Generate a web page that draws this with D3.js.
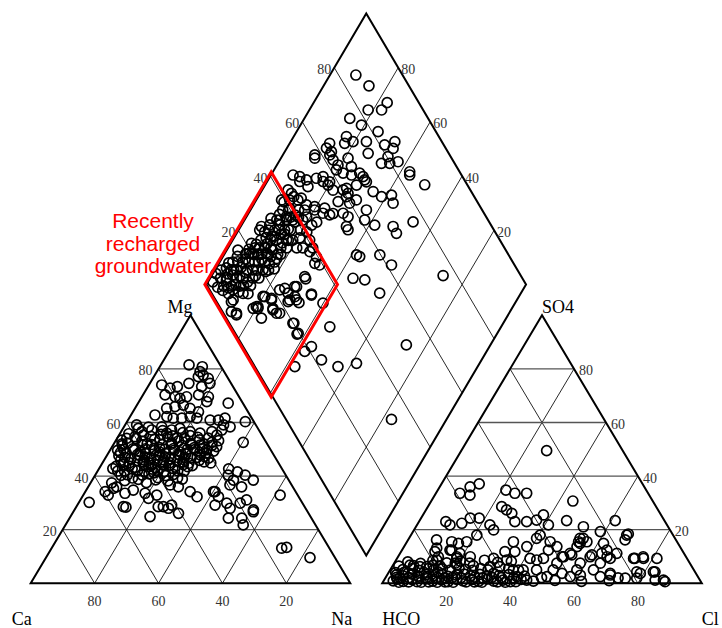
<!DOCTYPE html>
<html>
<head>
<meta charset="utf-8">
<script src="https://cdn.jsdelivr.net/npm/d3@7"></script>
<style>
  body { margin: 0; background: #fff; }
</style>
</head>
<body>
<div id="chart"></div>
<script>
// tick values shared by both triangles and the diamond
const ticks = [20, 40, 60, 80];
const cationNames = ['Ca', 'Mg', 'Na'];
const anionNames = ['HCO', 'SO4', 'Cl'];
const regionText = ['Recently', 'recharged', 'groundwater'];
// recharge zone in diamond units: Ca+Mg % and SO4+Cl %
const rechargeCaMg = [59, 100.5];
const rechargeSO4Cl = [-0.5, 41];

// cations: [Mg %, Na+K %]
const cationPts = [
  [81.5,8.8],[80.8,13.3],[79.0,13.5],[77.7,15.1],[77.1,13.9],[76.5,17.3],
  [74.0,4.0],[72.8,7.2],[73.4,9.2],[74.6,12.2],[73.4,16.8],[74.6,18.8],
  [70.3,6.9],[69.6,10.4],[69.0,12.2],[69.6,14.0],[70.3,17.4],[69.6,20.8],[67.8,21.2],[67.2,28.2],
  [65.3,9.9],[65.9,12.2],[66.5,14.5],[65.3,17.2],[64.0,20.5],
  [62.8,7.5],[62.2,11.5],[61.6,13.8],[61.6,16.5],[62.2,18.8],[61.6,21.2],[60.9,25.7],[60.9,28.3],
  [61.6,30.0],[59.1,30.8],[58.4,33.2],[60.3,37.0],
  [59.1,3.6],[57.8,4.8],[57.2,9.3],[58.4,11.8],[57.2,15.5],[57.8,17.8],[56.6,21.6],[56.0,25.0],
  [56.6,28.4],[55.3,30.6],[57.2,31.2],[52.6,40.2],[54.1,3.0],[54.7,5.3],[55.3,7.6],
  [53.4,1.8],[52.3,4.2],[53.0,8.3],[52.1,10.4],[53.6,13.6],[52.4,17.9],[53.1,19.7],[52.2,23.9],
  [53.5,26.1],[52.6,30.4],[53.2,32.2],
  [51.4,3.0],[50.2,6.9],[51.6,9.1],[50.4,13.4],[51.7,15.3],[50.3,19.6],[51.5,21.6],[50.6,25.9],
  [49.6,2.4],[48.6,5.6],[49.8,7.6],[48.5,11.7],[49.5,13.9],[48.4,18.1],[49.7,20.1],[48.3,24.4],
  [49.9,26.4],[48.6,30.6],[49.3,32.6],
  [47.6,3.8],[46.5,8.1],[47.8,10.1],[46.6,14.3],[47.7,16.4],[46.4,20.6],[47.9,22.6],[46.7,26.8],
  [45.9,5.2],[45.0,8.4],[45.8,10.5],[44.9,14.6],[45.9,16.7],[45.0,21.0],[45.8,23.0],[44.8,27.1],
  [45.9,29.8],[44.9,33.9],
  [44.3,6.8],[43.3,11.1],[44.4,13.1],[43.2,17.3],[44.2,19.3],[43.4,23.5],[44.3,25.6],
  [42.8,4.3],[41.9,8.4],[42.7,10.4],[41.8,14.7],[42.6,16.7],[41.7,20.9],[42.9,23.0],[41.9,27.1],
  [42.7,40.6],[41.6,43.9],
  [40.3,8.1],[39.3,12.2],[40.4,14.7],[39.4,20.1],[40.2,22.1],[39.3,26.3],
  [54.8,10.2],[55.6,13.0],[54.3,18.6],[55.1,22.4],[50.0,4.1],[48.0,9.4],[46.0,12.5],[44.0,15.8],
  [47.9,15.4],[50.1,17.0],[46.1,18.6],[44.1,21.4],[48.1,22.2],[50.0,24.0],[46.2,24.8],[43.9,28.6],
  [47.0,28.6],[41.2,18.0],[38.3,10.3],[37.6,17.4],[38.2,23.9],[37.5,6.6],[55.8,2.8],[56.2,19.5],
  [54.0,6.0],[53.8,11.9],[54.6,15.6],[54.0,21.2],[54.5,25.0],[54.2,28.4],
  [52.0,2.6],[51.8,12.0],[51.9,18.0],[51.8,24.3],[52.0,28.2],[51.5,31.0],
  [50.2,10.8],[50.6,15.0],[50.4,22.8],[50.3,28.6],
  [48.8,3.7],[49.0,9.8],[48.9,16.0],[49.0,22.3],[48.9,28.5],
  [47.0,6.0],[47.2,12.1],[47.2,18.4],[47.0,24.6],[47.3,30.8],
  [45.1,6.5],[45.3,12.6],[45.4,18.7],[45.2,25.0],[45.3,31.6],
  [43.6,4.9],[43.7,8.9],[43.5,15.2],[43.8,21.3],[43.5,27.4],
  [41.9,6.3],[42.0,12.4],[41.8,18.9],[42.0,25.0],
  [40.5,10.0],[40.8,16.6],[40.6,24.3],[38.8,14.3],[38.6,19.8],[38.9,28.0],
  [56.6,6.5],[57.0,12.8],[56.0,14.6],[58.3,7.7],[55.0,16.9],
  [34.2,6.2],[32.9,7.8],[35.4,8.2],[36.0,8.9],[33.6,12.7],[34.8,14.7],[33.6,19.0],[31.7,21.0],
  [32.9,23.0],[36.7,25.3],[36.0,28.2],[34.2,32.8],[32.3,35.9],
  [40.4,41.6],[38.5,44.2],[36.7,44.0],[40.4,46.9],[38.5,50.4],[36.0,48.0],[34.2,40.6],[32.3,42.6],
  [29.2,43.1],[29.9,46.4],[28.0,48.4],[29.9,50.6],
  [28.6,14.7],[24.9,24.9],[28.6,27.2],[28.0,29.1],[26.1,33.2],[24.3,49.7],[24.3,53.9],[27.4,56.0],
  [21.8,55.6],[30.2,3.2],[28.4,15.6],[28.6,25.6],[29.2,29.5],[34.2,40.1],[31.1,52.0],[26.7,56.3],
  [32.9,61.6],[13.1,72.0],[13.4,73.4],[9.6,82.6],
  [51.6,27.2],[49.8,30.2],[51.0,32.7],[47.9,29.1],[46.7,32.3]
];

// anions: [SO4 %, Cl %]
const anionPts = [
  [33.6,7.5],[32.9,11.0],[36.0,9.5],[37.1,11.8],[34.8,21.3],[33.6,24.7],[33.6,28.4],[30.7,44.3],
  [23.0,8.4],[21.8,10.3],[22.4,13.7],[24.3,15.4],[24.3,18.2],[21.8,22.8],[19.9,24.9],
  [28.6,23.1],[27.4,25.2],[26.1,27.5],[23.0,30.0],[23.0,33.7],[23.6,36.5],[25.5,37.7],[21.8,41.1],
  [23.4,46.0],[21.1,52.4],[19.3,58.6],[23.4,61.2],[18.4,67.8],[16.2,67.9],
  [16.2,8.9],[11.8,10.6],[15.5,14.0],[14.9,16.4],[15.5,18.7],[18.0,20.6],[8.7,12.7],[12.4,15.5],
  [9.3,18.7],[9.9,22.6],[9.3,30.2],[11.8,32.5],[15.5,33.3],[11.8,35.6],[13.7,38.4],[16.8,39.9],
  [18.0,40.4],[15.5,44.8],[12.4,45.8],[9.9,51.3],[10.6,54.0],[15.5,53.7],[16.8,53.5],[15.5,56.3],
  [10.6,60.3],[11.2,63.1],[9.3,66.7],[11.2,67.8],[9.3,74.0],[9.3,77.1],[9.3,81.3],
  [3.7,78.9],[4.3,82.7],[1.9,78.7],[1.2,87.4],[1.9,75.1],[3.1,69.8],[5.0,63.6],[2.5,67.0],
  [5.0,58.4],[7.5,58.2],[2.5,57.6],[3.7,54.4],[5.0,51.0],[7.5,50.9],[2.5,50.3],[5.0,45.8],
  [8.7,44.0],[9.3,41.6],[9.3,45.8],[5.0,41.6],[2.5,40.9],[1.2,44.6],[5.0,38.5],[8.7,34.6],
  [6.2,33.7],[6.2,30.6],[3.7,33.0],[2.5,31.5],
  [6.8,5.3],[6.2,8.7],[13.1,10.5],[9.9,12.6],[12.4,15.0],[9.9,18.4],[7.5,19.1],[11.2,18.7],
  [13.7,47.8],[9.9,51.8],[11.2,53.2],[13.7,54.1],[14.9,54.5],[16.8,54.5],
  [9.9,60.1],[7.5,64.5],[9.9,65.4],[3.7,69.5],[14.9,61.8],[12.4,64.1],
  [49.5,26.7],[18.0,67.5],[0.6,88.2],[1.2,84.8],[4.3,83.2],[4.3,77.5],[9.3,74.4],[9.9,76.7],
  [0.9,3.0],[1.6,3.9],[0.7,6.2],[1.4,8.7],[0.6,10.6],[1.7,13.2],[0.8,15.4],[1.3,17.9],
  [0.6,20.3],[1.5,22.6],[0.9,24.8],[1.4,27.3],[0.7,29.8],[1.6,32.1],[0.8,34.5],[1.2,37.2],
  [0.6,39.8],[1.5,42.7],[0.8,46.9],[1.1,53.5],[0.7,62.0],[1.0,70.5],
  [3.2,2.9],[2.8,5.1],[3.4,7.6],[2.7,9.8],[3.3,12.1],[2.9,14.6],[3.5,16.8],[2.6,19.3],
  [3.1,21.7],[3.4,24.0],[2.8,26.2],[3.3,28.9],[2.9,35.1],[3.2,38.0],[2.7,43.2],
  [5.1,3.9],[5.5,6.7],[4.8,9.2],[5.6,11.8],[5.0,13.6],[5.4,16.1],[4.9,18.8],[5.7,21.2],
  [5.2,23.4],[4.8,25.9],[5.5,28.1],[5.0,30.6],[5.6,36.8],[4.9,40.2],
  [8.0,4.0],[7.4,8.3],[8.5,11.6],[7.6,16.4],[8.3,20.3],[7.5,23.6],[8.6,27.7],[7.8,32.2],[8.2,36.3],
  [6.5,14.8],[6.9,19.9],[6.6,25.2],[2.1,48.8],[3.0,60.5],[2.0,72.8],
  [2.2,3.4],[2.0,4.6],[0.4,5.0],[2.1,7.3],[0.5,8.0],[2.3,10.4],[0.4,12.0],[2.0,12.7],[0.5,14.3],
  [2.2,16.0],[0.4,17.0],[2.0,18.6],[0.5,19.4],[2.2,20.9],[0.4,22.0],[2.1,23.6],[0.5,26.0],
  [2.3,27.8],[0.5,28.6],[2.0,30.4],[0.4,31.0],[2.2,33.2],[0.5,35.8],[2.1,36.2],[0.4,38.3],
  [2.0,40.1],[0.6,41.5],
  [4.0,2.2],[6.4,2.0],[4.1,4.8],[6.6,6.5],[3.9,6.2],[6.2,10.8],[4.1,11.0],[6.8,12.5],[4.3,15.3]
];

// diamond: [Ca+Mg %, SO4+Cl %]
const diamondPts = [
  [91.9,85.4],[85.8,87.5],[77.0,90.1],[77.4,87.0],[81.6,82.8],[85.8,75.5],[80.9,77.9],[74.5,81.9],
  [83.5,71.1],[82.8,69.3],[80.5,72.2],[76.3,76.4],[70.0,81.5],[67.4,85.3],[66.7,83.5],[87.5,64.6],
  [85.4,63.6],[90.0,57.8],[89.4,57.2],[73.6,74.8],[67.6,77.1],[66.8,80.4],[65.0,79.7],[62.7,82.6],
  [83.4,62.6],[80.9,63.2],[79.0,67.6],[76.4,67.1],[57.2,84.4],[56.6,83.8],[50.1,86.7],
  [93.1,47.3],[90.7,49.1],[91.9,43.0],[90.2,43.4],[86.3,49.8],[85.2,54.0],[83.4,56.4],[80.4,57.5],
  [80.5,61.8],[77.8,63.3],[74.8,65.6],[70.9,68.9],[68.9,69.0],[71.4,65.3],
  [65.0,69.3],[61.4,71.0],[58.6,74.4],[56.6,73.4],
  [77.8,57.0],[74.7,60.2],[72.4,60.0],[74.1,56.5],[70.2,59.8],[68.7,62.5],
  [92.1,39.1],[88.0,40.1],[83.4,46.0],[80.5,48.2],[77.1,51.1],[73.5,52.7],[70.4,55.9],[68.2,56.8],
  [63.7,63.8],[62.4,61.4],[58.3,63.6],[52.3,69.1],[50.0,68.9],[46.9,76.2],[27.6,75.7],
  [58.5,52.4],[57.2,53.1],[51.2,59.7],[45.7,61.5],[55.3,47.0],[51.3,50.4],[44.2,52.6],
  [26.3,51.4],[17.2,33.0],[53.6,30.8],[60.1,33.0],[55.7,21.4],[50.1,22.1],[43.7,26.0],[38.5,32.4],
  [57.2,12.5],[56.9,18.4],[65.5,20.2],[62.5,19.2],
  [70.0,32.1],[65.4,31.1],[71.4,27.8],[70.1,25.4],[67.7,25.6],[71.1,23.2],
  [80.1,15.5],[76.8,17.5],[79.5,11.7],[80.3,11.5],[74.5,16.1],[71.8,17.6],[85.0,3.8],[89.0,4.6],
  [86.9,9.8],[72.8,16.6],[76.1,21.9],[74.8,23.8],
  [98.2,7.1],[95.0,10.4],[93.3,12.1],[90.0,15.4],[88.3,17.1],[85.0,20.4],[83.2,22.1],
  [96.8,5.6],[94.9,7.6],[91.7,10.7],[89.8,12.6],[86.7,15.7],[84.8,17.6],
  [95.9,12.4],[92.8,15.5],[90.9,17.4],[87.8,20.5],[85.9,22.4],[82.8,25.5],
  [93.4,17.9],[91.5,19.8],[88.3,22.9],[86.4,24.8],[83.3,27.9],
  [94.3,5.1],[91.8,7.6],[89.3,10.1],[94.6,7.1],[90.7,7.3],[96.5,16.2],[93.5,21.7],[93.5,27.9],
  [93.4,26.7],[91.2,30.8],[89.0,34.8],[87.5,37.5],
  [91.2,25.2],[88.1,28.3],[86.2,30.2],[83.1,33.3],[81.2,35.2],
  [90.6,29.5],[88.7,31.4],[85.6,34.5],[83.7,36.4],[80.6,39.5],
  [89.9,33.9],[86.8,37.0],[84.9,38.9],[81.8,42.0],
  [89.9,37.6],[88.0,39.5],[84.9,42.6],[83.0,44.5],[89.5,41.6],[87.0,44.2],
  [91.6,21.9],[88.5,25.0],[86.6,26.9],[83.5,30.0],[81.6,31.9],[78.5,35.0],[76.6,36.9],[73.5,40.0],
  [75.9,40.5],[70.7,39.5],[73.7,38.4],[70.0,37.8],[68.2,39.0],[70.7,32.2],[72.0,27.2],[65.2,30.9],
  [91.5,27.9],[88.5,29.4],[84.8,33.8],[79.4,37.8],[78.3,41.1],[78.0,43.9],[77.0,46.0],[81.1,43.8],
  [83.9,39.2],[79.9,47.6],[76.7,49.6],[74.3,51.4],[66.9,54.5],[65.8,54.4],
  [87.6,62.7],[85.3,62.5],[89.8,48.2],[88.0,50.6],[82.5,55.5],[80.3,56.4],[73.9,61.6],[72.5,61.1],
  [72.6,68.5],[69.8,68.8],
  [88.8,5.5],[87.2,2.8],[85.3,4.1],[81.0,10.2],[79.8,12.0],[79.5,16.0],[77.1,17.8],[74.8,16.4],
  [76.6,11.0],[71.3,22.4],[69.0,25.3],[65.8,19.9],[62.3,19.7],[72.9,23.9],
  [98.5,2.5],[96.0,3.0],[99.0,5.0],
  [96.8,9.3],[94.2,11.2],[92.3,14.0],[90.8,9.1],[88.2,11.4],[86.0,13.6],[93.8,4.0],[91.4,5.2],
  [95.5,14.9],[89.1,19.3],[87.2,22.1],[84.1,23.5],[90.3,23.2],[92.4,19.2],[86.7,18.6],[83.9,20.9],
  [81.7,24.1],[85.7,27.0],[88.6,26.4],[84.0,31.4],[87.4,32.8],[82.3,28.8],
  [97.0,11.0],[95.3,8.6],[93.6,9.9],[92.5,6.3],[91.1,12.0],[89.8,14.6],[88.5,8.8],[87.6,13.3],
  [86.3,16.9],[85.3,11.3],[94.4,14.0],[92.5,16.9],[90.9,20.4],[89.4,21.6],[87.1,24.5],[85.0,25.3],
  [82.8,26.8],[93.2,19.8],[91.8,23.0],[90.0,27.3],[87.8,30.0],[86.0,32.5],[84.6,35.8],[82.5,33.8],
  [92.0,32.4],[90.1,35.8],[88.0,34.0],[86.1,38.8],[85.0,40.6],[83.6,41.2],[91.0,39.5],[88.9,43.5],
  [86.3,45.6]
];

const width = 722;
const height = 628;

// x in triangle side lengths (left triangle 0..1, right triangle 1.1..2.1)
const x = d3.scaleLinear().domain([0, 2.1]).range([30.7, 701.8]);
const yTri = d3.scaleLinear().domain([0, 100]).range([583.3, 315.3]);
const yDia = d3.scaleLinear().domain([0, 200]).range([555.5, 13.5]);

// (top %, right-corner %) -> pixel
const cationXY = (mg, na) => [x((na + mg / 2) / 100), yTri(mg)];
const anionXY = (so4, cl) => [x(1.1 + (cl + so4 / 2) / 100), yTri(so4)];
const diamondXY = (camg, s) => [x(1.05 + (s - camg) / 200), yDia(camg + s)];

const svg = d3.select('#chart')
  .append('svg')
  .attr('width', width)
  .attr('height', height);

const line = d3.line();

function drawTriangle(toXY) {
  const g = svg.append('g');
  ticks.forEach(p => {
    g.append('path')
      .attr('d', line([toXY(p, 0), toXY(p, 100 - p)]))
      .attr('stroke', '#555').attr('stroke-width', 1.3).attr('fill', 'none');
    g.append('path')
      .attr('d', line([toXY(0, p), toXY(100 - p, p)]))
      .attr('stroke', '#111').attr('stroke-width', 0.9).attr('fill', 'none');
    g.append('path')
      .attr('d', line([toXY(0, 100 - p), toXY(100 - p, 0)]))
      .attr('stroke', '#111').attr('stroke-width', 0.9).attr('fill', 'none');
  });
  g.append('path')
    .attr('d', line([toXY(0, 0), toXY(0, 100), toXY(100, 0)]) + 'Z')
    .attr('stroke', '#000').attr('stroke-width', 2).attr('fill', 'none');
  return g;
}

const catG = drawTriangle(cationXY);
const anG = drawTriangle(anionXY);

// diamond
const diaG = svg.append('g');
ticks.forEach(p => {
  diaG.append('path')
    .attr('d', line([diamondXY(p, 0), diamondXY(p, 100)]))
    .attr('stroke', '#111').attr('stroke-width', 0.9).attr('fill', 'none');
  diaG.append('path')
    .attr('d', line([diamondXY(0, p), diamondXY(100, p)]))
    .attr('stroke', '#111').attr('stroke-width', 0.9).attr('fill', 'none');
});
diaG.append('path')
  .attr('d', line([diamondXY(0, 0), diamondXY(100, 0), diamondXY(100, 100), diamondXY(0, 100)]) + 'Z')
  .attr('stroke', '#000').attr('stroke-width', 2).attr('fill', 'none');

// tick labels
const tickFont = g => g
  .attr('font-family', 'Liberation Serif, Times New Roman, serif')
  .attr('font-size', '14px')
  .attr('fill', '#333');

ticks.forEach(p => {
  // Mg on left edge
  let [px, py] = cationXY(p, 0);
  svg.append('text').call(tickFont)
    .attr('x', px - 6).attr('y', py + 2)
    .attr('text-anchor', 'end').attr('dominant-baseline', 'central').text(p);
  // Ca along base
  [px, py] = cationXY(0, 100 - p);
  svg.append('text').call(tickFont)
    .attr('x', px).attr('y', py + 23)
    .attr('text-anchor', 'middle').text(p);
  // SO4 on right edge
  [px, py] = anionXY(p, 100 - p);
  svg.append('text').call(tickFont)
    .attr('x', px + 5).attr('y', py + 2)
    .attr('text-anchor', 'start').attr('dominant-baseline', 'central').text(p);
  // Cl along base
  [px, py] = anionXY(0, p);
  svg.append('text').call(tickFont)
    .attr('x', px).attr('y', py + 23)
    .attr('text-anchor', 'middle').text(p);
  // diamond upper-left edge: SO4+Cl
  [px, py] = diamondXY(100, p);
  svg.append('text').call(tickFont)
    .attr('x', px - 3).attr('y', py + 2)
    .attr('text-anchor', 'end').attr('dominant-baseline', 'central').text(p);
  // diamond upper-right edge: Ca+Mg
  [px, py] = diamondXY(p, 100);
  svg.append('text').call(tickFont)
    .attr('x', px + 3).attr('y', py + 2)
    .attr('text-anchor', 'start').attr('dominant-baseline', 'central').text(p);
});

// corner labels
const cornerFont = t => t
  .attr('font-family', 'Liberation Serif, Times New Roman, serif')
  .attr('font-size', '18px')
  .attr('fill', '#000');

const corners = [
  { name: cationNames[0], xy: cationXY(0, 0), dx: 1, dy: 42, anchor: 'end' },
  { name: cationNames[1], xy: cationXY(100, 0), dx: 2, dy: -2.5, anchor: 'end' },
  { name: cationNames[2], xy: cationXY(0, 100), dx: 2, dy: 42, anchor: 'end' },
  { name: anionNames[0], xy: anionXY(0, 0), dx: 0, dy: 42, anchor: 'start' },
  { name: anionNames[1], xy: anionXY(100, 0), dx: 0, dy: -2.5, anchor: 'start' },
  { name: anionNames[2], xy: anionXY(0, 100), dx: 0, dy: 42, anchor: 'start' }
];
corners.forEach(c => {
  svg.append('text').call(cornerFont)
    .attr('x', c.xy[0] + c.dx).attr('y', c.xy[1] + c.dy)
    .attr('text-anchor', c.anchor).text(c.name);
});

// sample circles
const drawPts = (g, pts, toXY) => g.append('g')
  .selectAll('circle')
  .data(pts)
  .enter()
  .append('circle')
    .attr('cx', d => toXY(d[0], d[1])[0])
    .attr('cy', d => toXY(d[0], d[1])[1])
    .attr('r', 5)
    .attr('fill', 'none')
    .attr('stroke', '#000')
    .attr('stroke-width', 1.7);

drawPts(catG, cationPts, cationXY);
drawPts(anG, anionPts, anionXY);
drawPts(diaG, diamondPts, diamondXY);

// recharge zone outline
const zone = [
  diamondXY(rechargeCaMg[1], rechargeSO4Cl[0]),
  diamondXY(rechargeCaMg[1], rechargeSO4Cl[1]),
  diamondXY(rechargeCaMg[0], rechargeSO4Cl[1]),
  diamondXY(rechargeCaMg[0], rechargeSO4Cl[0])
];
svg.append('path')
  .attr('d', line(zone) + 'Z')
  .attr('fill', 'none')
  .attr('stroke', '#ff0000')
  .attr('stroke-width', 3)
  .attr('stroke-linejoin', 'miter');

svg.append('g')
  .selectAll('text')
  .data(regionText)
  .enter()
  .append('text')
    .attr('font-family', 'Liberation Sans, Arial, sans-serif')
    .attr('font-size', '21px')
    .attr('fill', '#ff0000')
    .attr('text-anchor', 'middle')
    .attr('x', 153)
    .attr('y', (d, i) => 228 + i * 22.5)
    .text(d => d);
</script>
</body>
</html>
